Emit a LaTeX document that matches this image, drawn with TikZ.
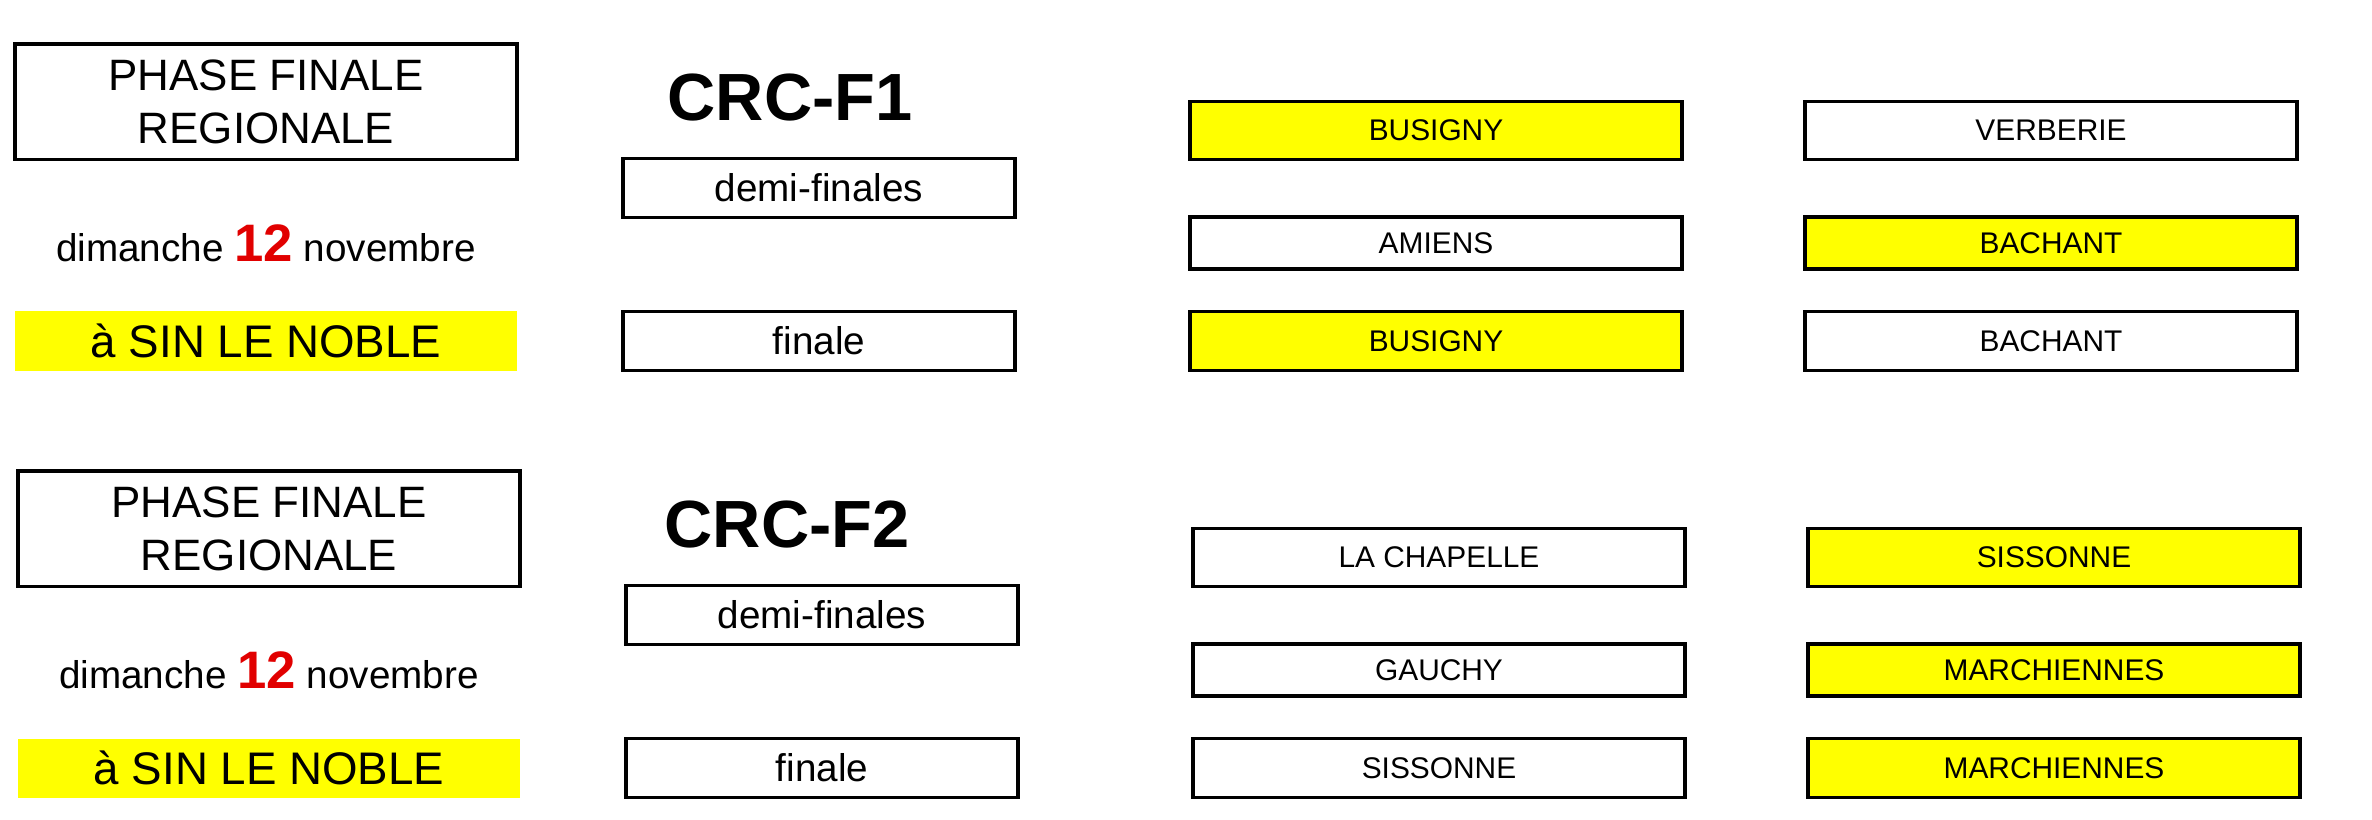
\documentclass[tikz,border=0pt]{standalone}
\usepackage{fontspec}
\setmainfont{Liberation Sans}
\usetikzlibrary{positioning}
\definecolor{jaune}{RGB}{255,255,0}
\definecolor{rouge}{RGB}{225,0,0}
\tikzstyle{box} =
[
	draw,rectangle,line width=0.9pt,inner sep=0pt,
	minimum width=3.92cm, minimum height=0.59cm, font=\fontsize{11}{13}\selectfont
]
\tikzstyle{team} =
[
	draw,rectangle,line width=0.9pt,inner sep=0pt,
	minimum width=4.92cm, minimum height=0.58cm, font=\fontsize{8.5}{10}\selectfont
]
\tikzstyle{win} = [team, fill=jaune]
\newcommand{\datetext}{dimanche {\fontsize{15}{17}\selectfont\bfseries\color{rouge}12} novembre}

\begin{document}
\begin{tikzpicture}
\useasboundingbox (0,0) rectangle (23.72,-8.2);

% CRC-F1
\node[box, minimum width=5.02cm, minimum height=1.155cm, align=center, font=\fontsize{12.5}{15}\selectfont] (P1) at (2.66,-1.018) {PHASE FINALE\\REGIONALE};
\node[font=\fontsize{19}{22}\selectfont\bfseries] (C1) at (7.90,-0.973) {CRC-F1};
\node[box] (D1) at (8.19,-1.877) {demi-finales};
\node[font=\fontsize{11}{13}\selectfont] (J1) at (2.66,-2.43) {\datetext};
\node[box, draw=none, fill=jaune, minimum width=5.02cm, font=\fontsize{13}{15}\selectfont] (L1) at (2.66,-3.41) {à SIN LE NOBLE};
\node[box] (F1) at (8.19,-3.41) {finale};
\node[win] (A1) at (14.36,-1.307) {BUSIGNY};
\node[team, minimum height=0.52cm] (B1) at (14.36,-2.43) {AMIENS};
\node[win, minimum height=0.59cm] (E1) at (14.36,-3.41) {BUSIGNY};
\node[team] (V1) at (20.51,-1.307) {VERBERIE};
\node[win, minimum height=0.52cm] (W1) at (20.51,-2.43) {BACHANT};
\node[team, minimum height=0.59cm] (X1) at (20.51,-3.41) {BACHANT};

% CRC-F2
\begin{scope}[shift={(0.03,-4.27)}]
\node[box, minimum width=5.02cm, minimum height=1.155cm, align=center, font=\fontsize{12.5}{15}\selectfont] (P2) at (2.66,-1.018) {PHASE FINALE\\REGIONALE};
\node[font=\fontsize{19}{22}\selectfont\bfseries] (C2) at (7.84,-0.973) {CRC-F2};
\node[box] (D2) at (8.19,-1.877) {demi-finales};
\node[font=\fontsize{11}{13}\selectfont] (J2) at (2.66,-2.43) {\datetext};
\node[box, draw=none, fill=jaune, minimum width=5.02cm, font=\fontsize{13}{15}\selectfont] (L2) at (2.66,-3.41) {à SIN LE NOBLE};
\node[box] (F2) at (8.19,-3.41) {finale};
\node[team] (A2) at (14.36,-1.307) {LA CHAPELLE};
\node[team, minimum height=0.52cm] (B2) at (14.36,-2.43) {GAUCHY};
\node[team, minimum height=0.59cm] (E2) at (14.36,-3.41) {SISSONNE};
\node[win] (V2) at (20.51,-1.307) {SISSONNE};
\node[win, minimum height=0.52cm] (W2) at (20.51,-2.43) {MARCHIENNES};
\node[win, minimum height=0.59cm] (X2) at (20.51,-3.41) {MARCHIENNES};
\end{scope}

\end{tikzpicture}
\end{document}
